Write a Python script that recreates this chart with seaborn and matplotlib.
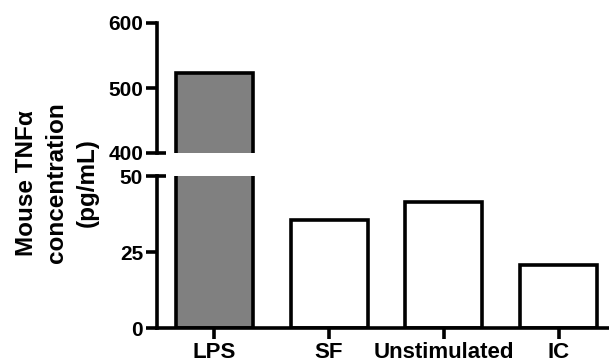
import matplotlib
matplotlib.use("Agg")
import matplotlib.pyplot as plt
import matplotlib.transforms as mtransforms
import seaborn as sns

# Mouse TNF-alpha concentration (pg/mL) per stimulation condition
categories = ["LPS", "SF", "Unstimulated", "IC"]
tnf_values = [523, 35.5, 41.5, 20.7]
bar_colors = ["#808080", "#ffffff", "#ffffff", "#ffffff"]

upper_ticks = [400, 500, 600]
lower_ticks = [0, 25, 50]

sns.set_theme(style="white")
plt.rcParams["font.family"] = ["Liberation Sans", "DejaVu Sans"]
plt.rcParams["font.weight"] = "bold"
plt.rcParams["text.color"] = "black"
plt.rcParams["xtick.color"] = "black"
plt.rcParams["ytick.color"] = "black"
plt.rcParams["axes.labelcolor"] = "black"

W, H = 609, 362
fig = plt.figure(figsize=(W / 100, H / 100), dpi=100)

x0 = 157 / W
ax_top = fig.add_axes([x0, 1 - 153 / H, 1 - x0, (153 - 23) / H])
ax_bot = fig.add_axes([x0, 1 - 328 / H, 1 - x0, (328 - 176) / H])

lw = 2.6
for ax in (ax_top, ax_bot):
    sns.barplot(x=categories, y=tnf_values, hue=categories, palette=bar_colors,
                saturation=1, legend=False, width=0.67, edgecolor="black",
                linewidth=lw, ax=ax)
    ax.set_xlim(-0.5, 3.44)
    ax.set_xlabel("")
    ax.set_ylabel("")
    for side in ("top", "right"):
        ax.spines[side].set_visible(False)
    ax.spines["left"].set_linewidth(lw)
    ax.spines["left"].set_color("black")
    ax.tick_params(axis="y", direction="out", length=8, width=lw, colors="black",
                   pad=2, left=True)

ax_top.set_ylim(400, 600)
ax_top.set_yticks(upper_ticks)
ax_top.spines["bottom"].set_visible(False)
ax_top.tick_params(axis="x", bottom=False, labelbottom=False)

ax_bot.set_ylim(0, 50)
ax_bot.set_yticks(lower_ticks)
ax_bot.spines["bottom"].set_linewidth(lw)
ax_bot.spines["bottom"].set_color("black")
ax_bot.tick_params(axis="x", direction="out", length=8, width=lw, colors="black",
                   pad=2, bottom=True)
for lab in ax_bot.get_xticklabels():
    lab.set_fontsize(16)
    lab.set_fontweight("bold")
    lab.set_color("black")

for ax in (ax_top, ax_bot):
    for lab in ax.get_yticklabels():
        lab.set_fontsize(15)
        lab.set_fontweight("bold")
        lab.set_color("black")

# axis-break marks: short extensions to the right of the spine
ext = 9 / (W - 157)
tr_top = mtransforms.blended_transform_factory(ax_top.transAxes, ax_top.transData)
ax_top.plot([0, ext], [400, 400], color="black", lw=lw, transform=tr_top,
            clip_on=False, solid_capstyle="butt")
tr_bot = mtransforms.blended_transform_factory(ax_bot.transAxes, ax_bot.transData)
ax_bot.plot([0, ext], [50, 50], color="black", lw=lw, transform=tr_bot,
            clip_on=False, solid_capstyle="butt")

fig.text(57 / W, 1 - 183 / H, "Mouse TNFα\nconcentration\n(pg/mL)",
         rotation=90, ha="center", va="center", fontsize=17.5, color="black",
         fontweight="bold", linespacing=1.42, multialignment="center")

fig.savefig("out.png", dpi=100)
